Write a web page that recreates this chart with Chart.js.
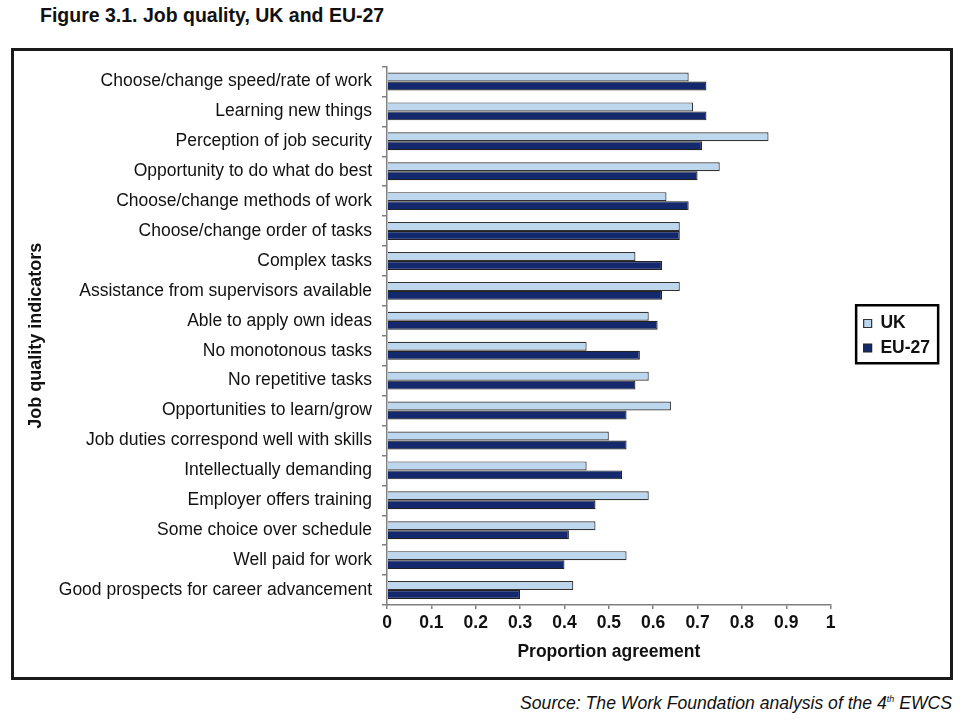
<!DOCTYPE html>
<html>
<head>
<meta charset="utf-8">
<script src="https://cdn.jsdelivr.net/npm/chart.js@4.4.1/dist/chart.umd.min.js"></script>
<style>
  html, body { margin: 0; padding: 0; background: #fff; }
  body { width: 962px; height: 722px; position: relative; font-family: "Liberation Sans", Arial, sans-serif; }
  #title { position: absolute; left: 40px; top: 6px; font-size: 19.5px; line-height: 1; font-weight: bold; color: #111; white-space: nowrap; }
  #box { position: absolute; left: 11px; top: 48px; width: 936px; height: 626px; border: 3px solid #1a1a1a; }
  #box canvas { display: block; }
  #source { position: absolute; right: 10px; top: 695px; font-size: 17.6px; line-height: 1; font-style: italic; color: #111; white-space: nowrap; }
  #source sup { font-size: 9px; }
</style>
</head>
<body>
<div id="title">Figure 3.1. Job quality, UK and EU-27</div>
<div id="box"><canvas id="c" width="936" height="626"></canvas></div>
<div id="source">Source: The Work Foundation analysis of the 4<sup>th</sup> EWCS</div>
<script>
const categories = [
  "Choose/change speed/rate of work",
  "Learning new things",
  "Perception of job security",
  "Opportunity to do what do best",
  "Choose/change methods of work",
  "Choose/change order of tasks",
  "Complex tasks",
  "Assistance from supervisors available",
  "Able to apply own ideas",
  "No monotonous tasks",
  "No repetitive tasks",
  "Opportunities to learn/grow",
  "Job duties correspond well with skills",
  "Intellectually demanding",
  "Employer offers training",
  "Some choice over schedule",
  "Well paid for work",
  "Good prospects for career advancement"
];
const ukValues = [0.68, 0.69, 0.86, 0.75, 0.63, 0.66, 0.56, 0.66, 0.59, 0.45, 0.59, 0.64, 0.50, 0.45, 0.59, 0.47, 0.54, 0.42];
const eu27Values = [0.72, 0.72, 0.71, 0.70, 0.68, 0.66, 0.62, 0.62, 0.61, 0.57, 0.56, 0.54, 0.54, 0.53, 0.47, 0.41, 0.40, 0.30];
const seriesNames = ["UK", "EU-27"];
const xTitle = "Proportion agreement";
const yTitle = "Job quality indicators";

const legendBorder = {
  id: 'legendBorder',
  afterDraw(chart) {
    const lg = chart.legend;
    if (!lg || !lg.legendHitBoxes || !lg.legendHitBoxes.length) return;
    const hb = lg.legendHitBoxes;
    const l = Math.min(...hb.map(h => h.left));
    const t = Math.min(...hb.map(h => h.top));
    const ctx = chart.ctx;
    ctx.save();
    ctx.strokeStyle = '#000';
    ctx.lineWidth = 2.5;
    ctx.strokeRect(l - 7.5, t - 9.5, 82, 58);
    ctx.restore();
  }
};

Chart.defaults.font.family = '"Liberation Sans", Arial, sans-serif';
Chart.defaults.color = '#111';

new Chart(document.getElementById('c'), {
  type: 'bar',
  data: {
    labels: categories,
    datasets: [
      { label: seriesNames[0], data: ukValues, backgroundColor: '#bdd7ee', borderColor: '#333', borderWidth: 1.2, barPercentage: 1.0, categoryPercentage: 0.6 },
      { label: seriesNames[1], data: eu27Values, backgroundColor: '#14286e', borderColor: '#222', borderWidth: 1.2, barPercentage: 1.0, categoryPercentage: 0.6 }
    ]
  },
  options: {
    indexAxis: 'y',
    responsive: false,
    animation: false,
    layout: { padding: { left: 8, right: 10, top: 15.5, bottom: 10 } },
    plugins: {
      title: { display: false },
      tooltip: { enabled: false },
      legend: {
        position: 'right',
        align: 'center',
        fullSize: false,
        labels: {
          boxWidth: 8, boxHeight: 8, padding: 7,
          font: { size: 17.5, weight: 'bold' },
          color: '#111'
        }
      }
    },
    scales: {
      x: {
        min: 0, max: 1,
        ticks: { stepSize: 0.1, font: { size: 17.5, weight: 'bold' }, color: '#111', padding: 4,
          callback: v => String(Math.round(v * 10) / 10) },
        grid: { drawOnChartArea: false, drawTicks: true, tickLength: 4, color: '#808080', lineWidth: 1.5 },
        border: { color: '#808080', width: 1.5 },
        title: { display: true, text: xTitle, font: { size: 17.5, weight: 'bold' }, color: '#111', padding: { top: 4, bottom: 4 } }
      },
      y: {
        afterFit: s => { s.width = 365; s.paddingTop = 0; s.paddingBottom = 0; },
        ticks: { font: { size: 17.5 }, color: '#111', padding: 10, autoSkip: false },
        grid: { drawOnChartArea: false, drawTicks: true, tickLength: 5, color: '#808080', lineWidth: 1.5, offset: true },
        border: { color: '#808080', width: 1.5 },
        title: { display: true, text: yTitle, font: { size: 18, weight: 'bold' }, color: '#111', padding: { top: 3, bottom: 4 } }
      },
      yGap: {
        type: 'linear',
        position: 'right',
        display: true,
        afterFit: s => { s.width = 26; s.paddingTop = 0; s.paddingBottom = 0; },
        ticks: { display: false },
        grid: { display: false },
        border: { display: false },
        title: { display: false }
      }
    }
  },
  plugins: [legendBorder]
});
</script>
</body>
</html>
